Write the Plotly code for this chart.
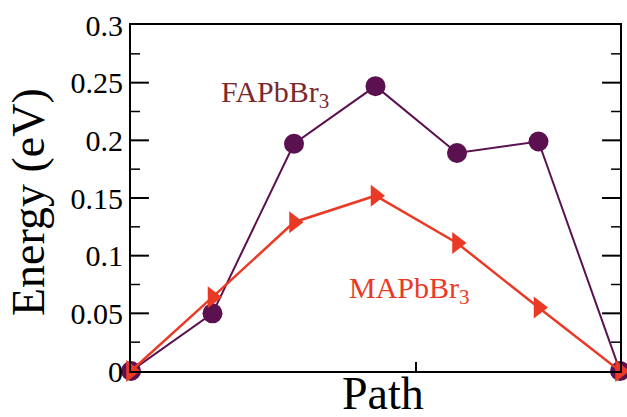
import plotly.graph_objects as go

path_x = [0, 1, 2, 3, 4, 5, 6]
fa_energy = [0.0, 0.050, 0.197, 0.247, 0.189, 0.199, 0.0]
ma_energy = [0.0, 0.064, 0.129, 0.152, 0.111, 0.055, 0.0]
y_major = [0.05, 0.10, 0.15, 0.20, 0.25]
y_minor = [0.025, 0.075, 0.125, 0.175, 0.225, 0.275]

FA_COLOR = "#5b1150"
MA_COLOR = "#ea3a26"
SERIF = "Liberation Serif"
W, H = 627, 417
ML, MR, MT, MB = 131, 5, 25, 46
X_RANGE = [0, 6]
px_to_x = (X_RANGE[1] - X_RANGE[0]) / (W - ML - MR)

fig = go.Figure()

# inside tick marks on left and right y axes, drawn as line traces
for vals, length, width in [(y_major, 18, 2), (y_minor, 9, 1.5)]:
    xs, ys = [], []
    d = length * px_to_x
    for v in vals:
        xs += [X_RANGE[0], X_RANGE[0] + d, None, X_RANGE[1] - d, X_RANGE[1], None]
        ys += [v, v, None, v, v, None]
    fig.add_trace(go.Scatter(x=xs, y=ys, mode="lines", line=dict(color="black", width=width),
                             hoverinfo="skip", showlegend=False, connectgaps=False))

fig.add_trace(go.Scatter(
    x=path_x, y=fa_energy, mode="lines+markers",
    line=dict(color=FA_COLOR, width=2),
    marker=dict(symbol="circle", size=20, color=FA_COLOR),
    cliponaxis=False, showlegend=False))
fig.add_trace(go.Scatter(
    x=path_x, y=ma_energy, mode="lines+markers",
    line=dict(color=MA_COLOR, width=2.5),
    marker=dict(symbol="triangle-right", size=19, color=MA_COLOR),
    cliponaxis=False, showlegend=False))

fig.add_annotation(x=1.77, y=0.240, text="FAPbBr<sub>3</sub>", showarrow=False,
                   font=dict(family=SERIF, size=30, color="#7a2a2c"))
fig.add_annotation(x=3.42, y=0.070, text="MAPbBr<sub>3</sub>", showarrow=False,
                   font=dict(family=SERIF, size=30, color=MA_COLOR))
# axis titles
fig.add_annotation(xref="paper", yref="paper", x=0, y=0.5, xshift=-103, yshift=-4,
                   text="Energy (eV)", textangle=-90, showarrow=False,
                   xanchor="center", yanchor="middle",
                   font=dict(family=SERIF, size=46, color="black"))
fig.add_annotation(xref="paper", yref="paper", x=0.5, y=0, xshift=7, yshift=-22, text="Path",
                   showarrow=False, xanchor="center", yanchor="middle",
                   font=dict(family=SERIF, size=46, color="black"))

fig.update_layout(
    width=W, height=H,
    margin=dict(l=ML, r=MR, t=MT, b=MB),
    paper_bgcolor="white", plot_bgcolor="white",
    font=dict(family=SERIF, color="black"),
    xaxis=dict(range=X_RANGE, showgrid=False, zeroline=False,
               showline=True, linecolor="black", linewidth=2, mirror=True,
               ticks="inside", ticklen=9, tickwidth=1.5, tickcolor="black",
               tickmode="array", tickvals=[3.5], ticktext=[""]),
    yaxis=dict(range=[0, 0.3], showgrid=False, zeroline=False,
               showline=True, linecolor="black", linewidth=2, mirror=True,
               ticks="", tickmode="linear", tick0=0, dtick=0.05,
               tickfont=dict(family=SERIF, size=30)),
)

fig.write_html("out.html")
